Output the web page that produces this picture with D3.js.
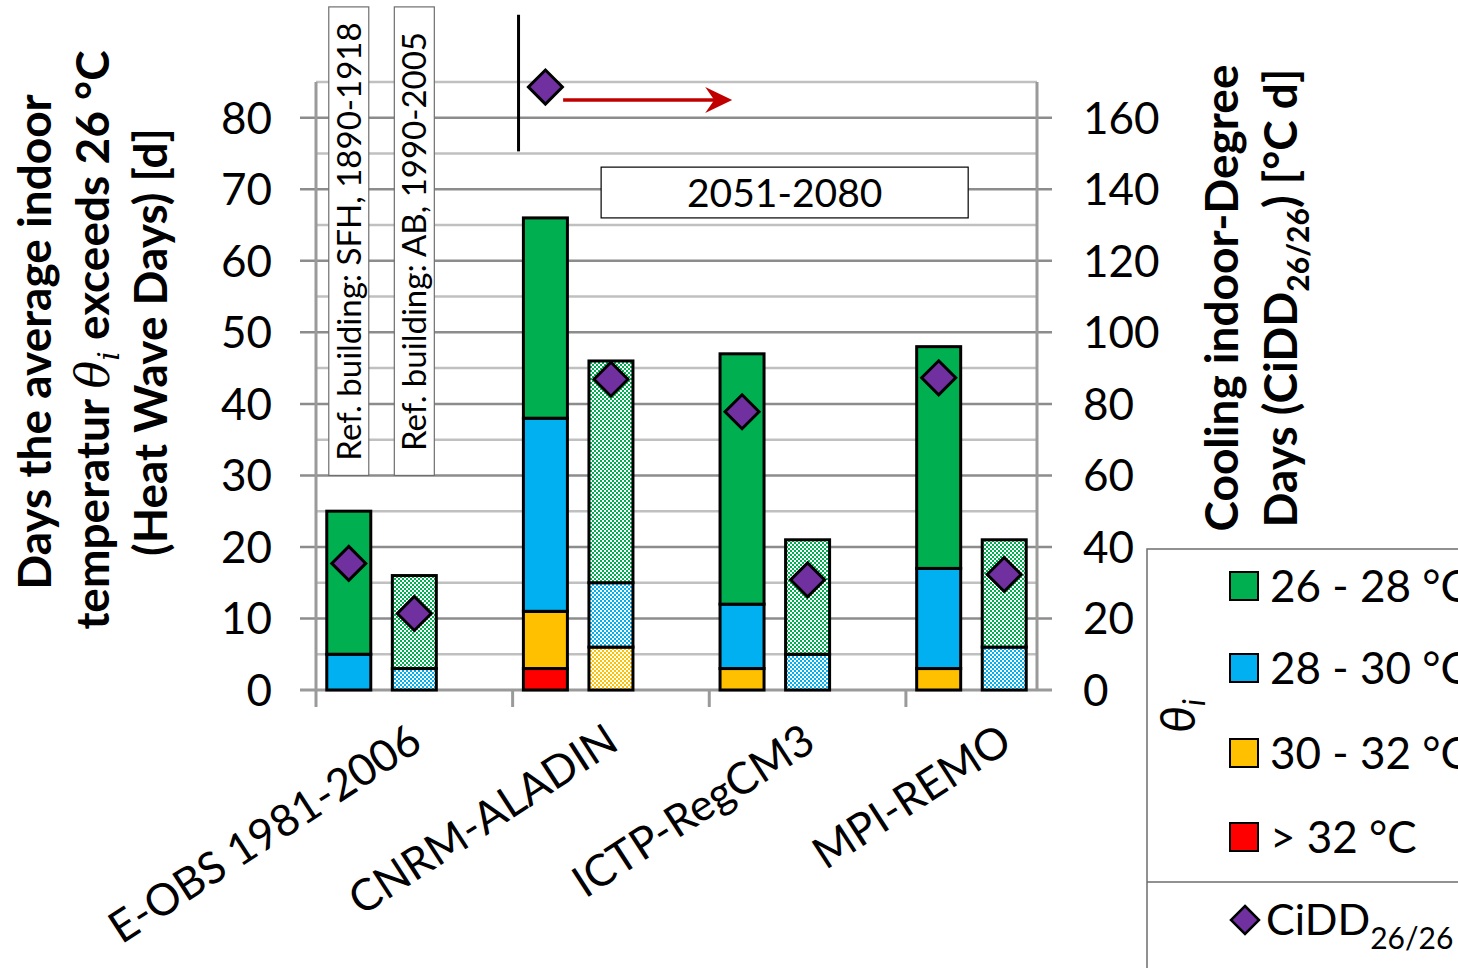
<!DOCTYPE html>
<html lang="en">
  <head>
    <meta charset="utf-8" />
    <title>Heat Wave Days</title>
    <script src="https://cdn.jsdelivr.net/npm/d3@7"></script>
    <style>
      body { margin: 0; background: #fff; }
      text { font-family: Lato, "Open Sans", sans-serif; fill: #000; }
    </style>
  </head>
  <body>
    <svg id="chart" width="1458" height="968"></svg>
    <script>
      // categories and bars (two reference buildings per climate data set)
      const categories = ["E-OBS 1981-2006", "CNRM-ALADIN", "ICTP-RegCM3", "MPI-REMO"];
      const buildings = ["SFH", "AB"]; // SFH solid, AB hatched

      // days per temperature band, order: cat0 SFH, cat0 AB, cat1 SFH, ...
      const days26to28 = [20, 13, 28, 31, 35, 16, 31, 15];
      const days28to30 = [5, 3, 27, 9, 9, 5, 14, 6];
      const days30to32 = [0, 0, 8, 6, 3, 0, 3, 0];
      const daysOver32 = [0, 0, 3, 0, 0, 0, 0, 0];
      // cooling indoor degree days (right axis)
      const cidd = [35.4, 21.4, 168.6, 86.9, 77.8, 30.8, 87.3, 32.3];

      const bandNames = ["> 32 °C", "30 - 32 °C", "28 - 30 °C", "26 - 28 °C"];
      const bandColors = ["#ff0000", "#ffc000", "#00b0f0", "#00b050"];
      const bandValues = [daysOver32, days30to32, days28to30, days26to28];

      const leftTicks = [0, 10, 20, 30, 40, 50, 60, 70, 80];
      const rightTicks = [0, 20, 40, 60, 80, 100, 120, 140, 160];

      const svg = d3.select("#chart");
      const x = d3.scaleLinear().domain([0, 11]).range([316, 1037]);
      const y = d3.scaleLinear().domain([0, 85]).range([690, 82]);
      const y2 = d3.scaleLinear().domain([0, 170]).range([690, 82]);
      const barW = 44;

      // hatched patterns for the AB bars
      const defs = svg.append("defs");
      bandColors.forEach((c, i) => {
        const p = defs.append("pattern")
          .attr("id", "hatch" + i)
          .attr("width", 4).attr("height", 4)
          .attr("patternUnits", "userSpaceOnUse");
        p.append("rect").attr("width", 4).attr("height", 4).attr("fill", "#fff");
        p.append("rect").attr("width", 2).attr("height", 2).attr("fill", c);
        p.append("rect").attr("x", 2).attr("y", 2).attr("width", 2).attr("height", 2).attr("fill", c);
      });

      // gridlines
      const grid = svg.append("g");
      d3.range(5, 90, 5).forEach(v => {
        const major = v % 10 === 0 && v <= 80;
        grid.append("line")
          .attr("x1", major ? 300 : x(0)).attr("x2", major ? 1052 : x(11))
          .attr("y1", y(v)).attr("y2", y(v))
          .attr("stroke", major ? "#8c8c8c" : "#c0c0c0")
          .attr("stroke-width", 2.5);
      });

      // axes lines
      const axisG = svg.append("g").attr("stroke", "#9a9a9a").attr("stroke-width", 3);
      axisG.append("line").attr("x1", x(0)).attr("x2", x(0)).attr("y1", y(85)).attr("y2", 707);
      axisG.append("line").attr("x1", x(11)).attr("x2", x(11)).attr("y1", y(85)).attr("y2", y(0));
      axisG.append("line").attr("x1", 300).attr("x2", 1052).attr("y1", y(0)).attr("y2", y(0));
      [3, 6, 9].forEach(s => {
        axisG.append("line").attr("x1", x(s)).attr("x2", x(s)).attr("y1", y(0)).attr("y2", 707);
      });

      // tick labels
      svg.append("g").selectAll("text").data(leftTicks).join("text")
        .attr("x", 272).attr("y", d => y(d)).attr("dy", "0.36em")
        .attr("text-anchor", "end").attr("font-size", 44)
        .text(d => d);
      svg.append("g").selectAll("text").data(rightTicks).join("text")
        .attr("x", 1083).attr("y", d => y2(d)).attr("dy", "0.36em")
        .attr("text-anchor", "start").attr("font-size", 44)
        .text(d => d);

      // category labels
      svg.append("g").selectAll("text").data(categories).join("text")
        .attr("text-anchor", "end").attr("font-size", 44)
        .attr("transform", (d, i) => `translate(${x(3 * i + 1.5) + 10},748) rotate(-33)`)
        .text(d => d);

      // bars
      const slotOf = k => 3 * Math.floor(k / 2) + (k % 2);
      const stacked = [];
      d3.range(8).forEach(k => {
        let base = 0;
        bandValues.forEach((vals, b) => {
          if (vals[k] > 0) {
            stacked.push({ k, b, y0: base, y1: base + vals[k] });
            base += vals[k];
          }
        });
      });
      svg.append("g").selectAll("rect").data(stacked).join("rect")
        .attr("x", d => x(slotOf(d.k) + 0.5) - barW / 2)
        .attr("width", barW)
        .attr("y", d => y(d.y1))
        .attr("height", d => y(d.y0) - y(d.y1))
        .attr("fill", d => d.k % 2 === 0 ? bandColors[d.b] : `url(#hatch${d.b})`)
        .attr("stroke", "#000").attr("stroke-width", 3);

      // diamonds for CiDD
      const diamond = r => `M0,${-r}L${r},0L0,${r}L${-r},0Z`;
      svg.append("g").selectAll("path").data(cidd).join("path")
        .attr("d", diamond(17))
        .attr("transform", (d, k) => `translate(${x(slotOf(k) + 0.5)},${y2(d)})`)
        .attr("fill", "#7030a0").attr("stroke", "#000").attr("stroke-width", 3);

      // annotations: reference building boxes
      const refLabels = ["Ref. building: SFH, 1890-1918", "Ref. building: AB, 1990-2005"];
      refLabels.forEach((t, j) => {
        const cx = x(j + 0.5);
        svg.append("rect")
          .attr("x", cx - 20).attr("width", 40)
          .attr("y", y(95.5)).attr("height", y(30) - y(95.5))
          .attr("fill", "#fff").attr("stroke", "#6e6e6e").attr("stroke-width", 1.2);
        svg.append("text")
          .attr("transform", `translate(${cx + 12},${y(62.7)}) rotate(-90)`)
          .attr("text-anchor", "middle").attr("font-size", 33)
          .text(t);
      });

      // period box
      svg.append("rect")
        .attr("x", x(4.35)).attr("width", x(9.95) - x(4.35))
        .attr("y", y(73.1)).attr("height", y(66) - y(73.1))
        .attr("fill", "#fff").attr("stroke", "#000").attr("stroke-width", 1.2);
      svg.append("text")
        .attr("x", (x(4.35) + x(9.95)) / 2).attr("y", y(69.5)).attr("dy", "0.36em")
        .attr("text-anchor", "middle").attr("font-size", 39)
        .text("2051-2080");

      // vertical marker and arrow
      svg.append("line")
        .attr("x1", x(3.09)).attr("x2", x(3.09))
        .attr("y1", y(94.4)).attr("y2", y(75.3))
        .attr("stroke", "#000").attr("stroke-width", 3);
      const ay = y(82.5), ax0 = x(3.77), ax1 = x(6.35);
      svg.append("line")
        .attr("x1", ax0).attr("x2", ax1 - 14).attr("y1", ay).attr("y2", ay)
        .attr("stroke", "#c00000").attr("stroke-width", 3.5);
      svg.append("path")
        .attr("d", `M${ax1 - 27},${ay - 13}L${ax1},${ay}L${ax1 - 27},${ay + 13}L${ax1 - 18},${ay}Z`)
        .attr("fill", "#c00000");

      // axis titles
      const leftTitle = svg.append("g").attr("font-weight", "bold").attr("font-size", 46);
      leftTitle.append("text")
        .attr("transform", "translate(51,342) rotate(-90)")
        .attr("text-anchor", "middle").text("Days the average indoor");
      const l2 = leftTitle.append("text")
        .attr("transform", "translate(109,340) rotate(-90)")
        .attr("text-anchor", "middle");
      l2.append("tspan").text("temperatur ");
      l2.append("tspan").attr("font-family", "DejaVu Serif").attr("font-style", "italic")
        .attr("font-weight", "normal").text("θ");
      l2.append("tspan").attr("font-family", "DejaVu Serif").attr("font-style", "italic")
        .attr("font-weight", "normal").attr("font-size", 30).attr("dy", 10).text("i");
      l2.append("tspan").attr("dy", -10).text(" exceeds 26 °C");
      leftTitle.append("text")
        .attr("transform", "translate(167,342) rotate(-90)")
        .attr("text-anchor", "middle").text("(Heat Wave Days) [d]");

      const rightTitle = svg.append("g").attr("font-weight", "bold").attr("font-size", 46);
      rightTitle.append("text")
        .attr("transform", "translate(1238,298) rotate(-90)")
        .attr("text-anchor", "middle").text("Cooling indoor-Degree");
      const r2 = rightTitle.append("text")
        .attr("transform", "translate(1297,298) rotate(-90)")
        .attr("text-anchor", "middle");
      r2.append("tspan").text("Days (CiDD");
      r2.append("tspan").attr("font-size", 30).attr("dy", 12).text("26/26");
      r2.append("tspan").attr("dy", -12).text(") [°C d]");

      // legend (its right part is cut by the picture edge, as in the source)
      const leg = svg.append("g");
      leg.append("path")
        .attr("d", "M1458,549H1147V968M1147,882H1458")
        .attr("fill", "none").attr("stroke", "#6e6e6e").attr("stroke-width", 1.5);
      const legRows = [3, 2, 1, 0];
      const legY = [586, 668, 753, 837];
      legRows.forEach((b, i) => {
        leg.append("rect")
          .attr("x", 1230).attr("y", legY[i] - 14).attr("width", 28).attr("height", 28)
          .attr("fill", bandColors[b]).attr("stroke", "#000").attr("stroke-width", 2);
        leg.append("text")
          .attr("x", 1270).attr("y", legY[i]).attr("dy", "0.36em")
          .attr("font-size", 44).text(bandNames[b]);
      });
      const th = leg.append("text")
        .attr("transform", "translate(1195,716) rotate(-90)")
        .attr("text-anchor", "middle")
        .attr("font-family", "DejaVu Serif").attr("font-style", "italic").attr("font-size", 48);
      th.append("tspan").text("θ");
      th.append("tspan").attr("font-size", 30).attr("dy", 10).text("i");
      leg.append("path")
        .attr("d", diamond(14))
        .attr("transform", "translate(1245,920)")
        .attr("fill", "#7030a0").attr("stroke", "#000").attr("stroke-width", 2.5);
      const ct = leg.append("text").attr("x", 1266).attr("y", 920).attr("dy", "0.36em").attr("font-size", 43);
      ct.append("tspan").text("CiDD");
      ct.append("tspan").attr("font-size", 30).attr("dy", 14).text("26/26");
    </script>
  </body>
</html>
